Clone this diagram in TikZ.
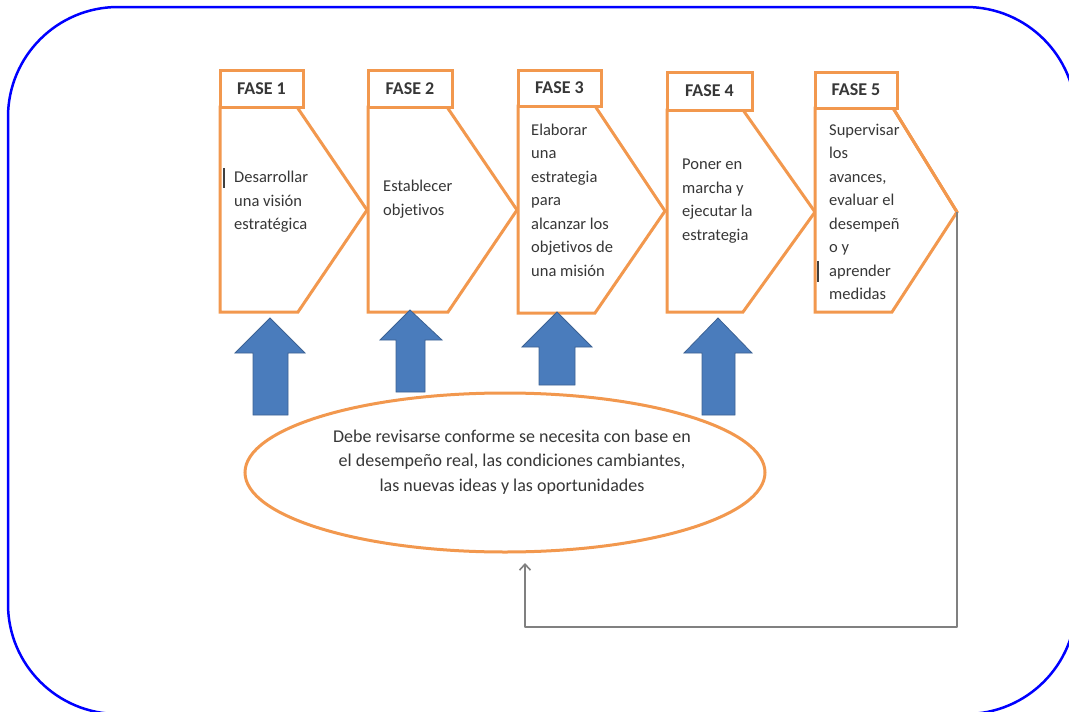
\documentclass[tikz,border=0pt]{standalone}
\usepackage{fontspec}
\setmainfont{Carlito}[Ligatures=NoCommon]
\usetikzlibrary{arrows.meta,shapes.geometric,calc}
\definecolor{phaseorange}{RGB}{242,152,78}
\definecolor{arrowblue}{RGB}{74,124,188}
\definecolor{arrowedge}{RGB}{60,98,148}
\definecolor{frameblue}{RGB}{0,0,255}
\definecolor{textgray}{RGB}{55,55,55}
\definecolor{linkgray}{RGB}{128,128,128}
\begin{document}
\begin{tikzpicture}[x=1pt,y=-1pt,
  header/.style={draw=phaseorange,line width=3pt,fill=white,rectangle,
    inner sep=0pt,text=textgray,font=\fontsize{18}{20}\selectfont\bfseries},
  phasebody/.style={draw=phaseorange,line width=3pt,fill=white,line join=miter},
  phasetext/.style={anchor=west,align=left,inner sep=0pt,text=textgray,
    font=\fontsize{16.5}{23.5}\selectfont},
  blockarrow/.style={fill=arrowblue,draw=arrowedge,line width=0.8pt,line join=miter},
  feedback/.style={draw=linkgray,line width=2pt,line join=round,
    -{Straight Barb[length=6pt,width=11pt,line width=1.6pt]}},
  cursor/.style={draw=black!75,line width=2.5pt}]
\useasboundingbox (0,0) rectangle (1069,712);
% outer frame
\begin{scope}
\clip (0,0) rectangle (1069,712);
\draw[frameblue,line width=2.5pt,rounded corners=110pt] (8,7) rectangle (1076,714);
\end{scope}

% phase bodies: pointed panels below each header
\draw[phasebody] (220,107) -- (297,107) -- (367,210) -- (298,312) -- (220,312) -- cycle;
\draw[phasebody] (368,107) -- (447,107) -- (517,210) -- (448,312) -- (368,312) -- cycle;
\draw[phasebody] (518,106) -- (595,106) -- (665,211) -- (595,313) -- (518,313) -- cycle;
\draw[phasebody] (667,110) -- (743,110) -- (815,212) -- (743,312) -- (667,312) -- cycle;
\draw[phasebody] (815,108) -- (893,108) -- (957,212) -- (892,312) -- (815,312) -- cycle;
\coordinate (tip5) at (957,212);

% phase headers
\node[header,minimum width=83pt,minimum height=37pt] (h1) at (261.5,88.5) {FASE 1};
\node[header,minimum width=84pt,minimum height=37pt] (h2) at (410,88.5) {FASE 2};
\node[header,minimum width=83pt,minimum height=36pt] (h3) at (559.5,88) {FASE 3};
\node[header,minimum width=85pt,minimum height=38pt] (h4) at (709.5,91) {FASE 4};
\node[header,minimum width=82pt,minimum height=36pt] (h5) at (856,90) {FASE 5};

% phase texts
\node[phasetext] (t1) at (234,202) {Desarrollar\\una visión\\estratégica};
\node[phasetext] (t2) at (383,199) {Establecer\\objetivos};
\node[phasetext] (t3) at (531,200) {Elaborar\\una\\estrategia\\para\\alcanzar los\\objetivos de\\una misión};
\node[phasetext] (t4) at (682,201) {Poner en\\marcha y\\ejecutar la\\estrategia};
\node[phasetext] (t5) at (829,212) {Supervisar\\los\\avances,\\evaluar el\\desempeñ\\o y\\aprender\\medidas};
\draw[phaseorange,line width=3pt] (893,108) -- (957,212);
\draw[cursor] (224,168) -- (224,188);
\draw[cursor] (818,261) -- (818,282);

% upward block arrows
\draw[blockarrow] (270,318) -- (305,353) -- (288,353) -- (288,415) -- (253,415) -- (253,353) -- (235,353) -- cycle;
\draw[blockarrow] (410,310) -- (442,340) -- (425,340) -- (425,392) -- (396,392) -- (396,340) -- (380,340) -- cycle;
\draw[blockarrow] (557,312) -- (592,347) -- (575,347) -- (575,385) -- (539,385) -- (539,347) -- (522,347) -- cycle;
\draw[blockarrow] (718,318) -- (752,353) -- (735,353) -- (735,415) -- (702,415) -- (702,353) -- (684,353) -- cycle;

% review ellipse
\node[ellipse,draw=phaseorange,line width=3pt,fill=white,minimum width=520pt,
  minimum height=159pt,inner sep=0pt] (ell) at (505,472.5) {};
\node[align=center,text=textgray,font=\fontsize{18}{24.5}\selectfont,inner sep=0pt]
  (et) at (512,462) {Debe revisarse conforme se necesita con base en\\el desempeño real, las condiciones cambiantes,\\las nuevas ideas y las oportunidades};

% feedback loop from the last phase back to the ellipse
\coordinate (fb) at (525,563);
\draw[feedback] (tip5) |- (525,627) -- (fb);
\end{tikzpicture}
\end{document}
